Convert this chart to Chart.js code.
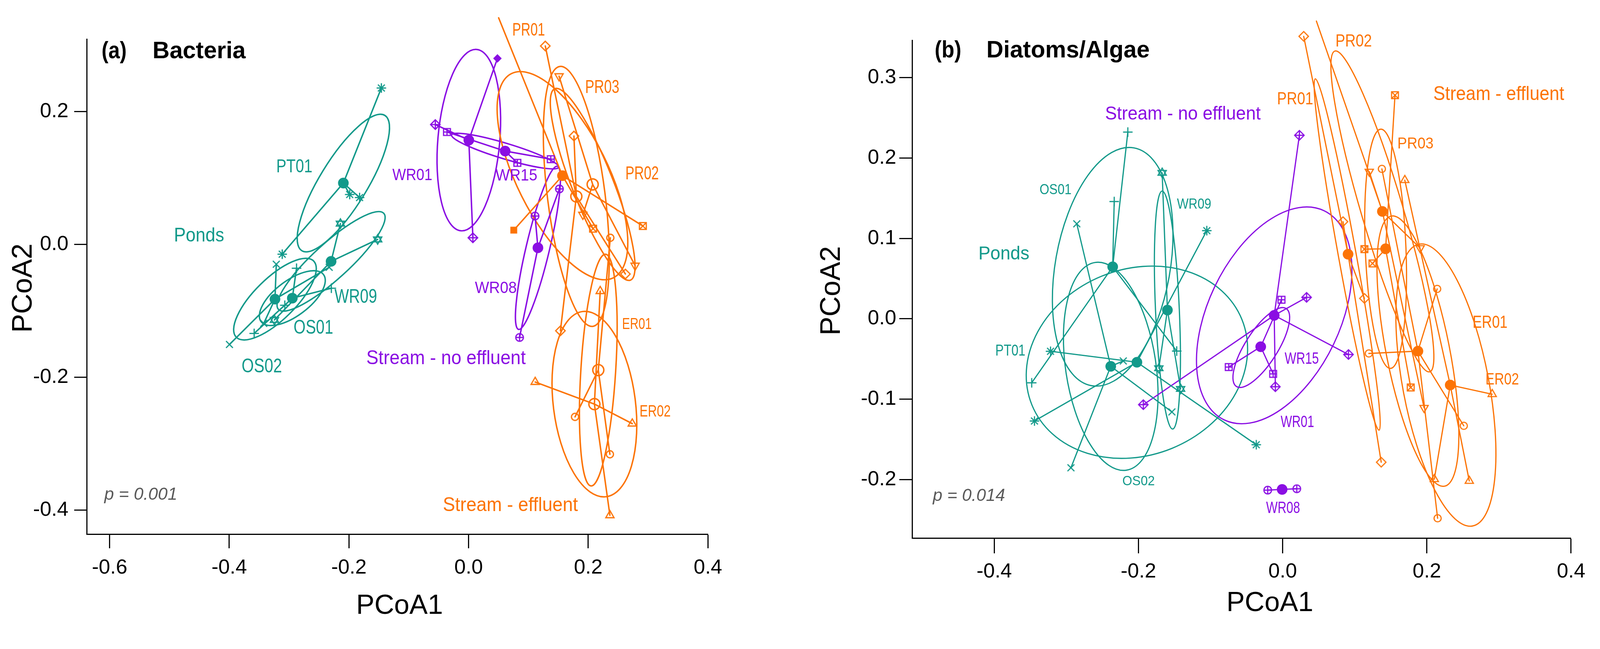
<!DOCTYPE html>
<html>
<head>
<meta charset="utf-8">
<script src="https://cdn.jsdelivr.net/npm/chart.js@4.4.1/dist/chart.umd.min.js"></script>
<style>
  html, body { margin: 0; padding: 0; background: #fff; overflow: hidden; }
  #wrap { position: relative; overflow: hidden; background: #fff; }
  canvas { position: absolute; top: 0; }
</style>
</head>
<body>
<div id="wrap"></div>
<script>
// ---- groups (same order in both panels) ----
const groups  = ['PT01', 'WR09', 'OS01', 'OS02', 'WR01', 'WR15', 'WR08', 'PR01', 'PR02', 'PR03', 'ER01', 'ER02'];
const habitat = ['pond', 'pond', 'pond', 'pond', 'ref', 'ref', 'ref', 'eff', 'eff', 'eff', 'eff', 'eff'];
const marker  = ['asterisk', 'star6', 'plus', 'x', 'diaplus', 'sqplus', 'circplus', 'diamond', 'tridown', 'sqx', 'circle', 'triup'];

// ---- (a) Bacteria: site scores [PCoA1, PCoA2] per group ----
const aSites = [
  [[-0.1458, 0.2352], [-0.1987, 0.0750], [-0.1822, 0.0704], [-0.3115, -0.0148]],
  [[-0.2142, 0.0312], [-0.1520, 0.0074], [-0.3245, -0.1137]],
  [[-0.2876, -0.0359], [-0.2294, -0.0660], [-0.3584, -0.1340], [-0.3072, -0.0916]],
  [[-0.3214, -0.0299], [-0.2330, -0.0345], [-0.3424, -0.1189], [-0.3997, -0.1506]],
  [[-0.0556, 0.1802], [0.0072, 0.0099], [0.0482, 0.2797]],
  [[-0.0361, 0.1690], [0.0815, 0.1226], [0.1374, 0.1281]],
  [[0.1518, 0.0834], [0.1111, 0.0426], [0.0852, -0.1401]],
  [[0.1282, 0.2984], [0.1761, 0.1630], [0.2621, -0.0446], [0.1535, -0.1300]],
  [[0.1512, 0.2530], [0.1910, 0.0447], [0.2783, -0.0319]],
  [[0.0502, 0.3408], [0.2081, 0.0236], [0.2913, 0.0276], [0.0755, 0.0214]],
  [[0.2369, 0.0099], [0.1779, -0.2595], [0.2362, -0.3158]],
  [[0.2200, -0.0704], [0.1113, -0.2071], [0.2736, -0.2697], [0.2362, -0.4076]]
];
const aCentroids = [[-0.2093, 0.0922], [-0.2298, -0.0256], [-0.2946, -0.0809], [-0.3236, -0.0824],
  [0.0004, 0.1568], [0.0611, 0.1403], [0.1159, -0.0052], [0.1801, 0.0721], [0.2074, 0.0902],
  [0.1569, 0.1033], [0.2168, -0.1891], [0.2103, -0.2403]];
// ellipse: centre x, centre y, end of major semi-axis x, y, minor/major ratio
const aEllipses = [
  [-0.2093, 0.0922, -0.1400, 0.1940, 0.30],
  [-0.2298, -0.0256, -0.1417, 0.0466, 0.25],
  [-0.2946, -0.0809, -0.2424, -0.0455, 0.45],
  [-0.3236, -0.0824, -0.2589, -0.0251, 0.38],
  [0.0004, 0.1568, 0.0135, 0.2932, 0.34],
  [0.0611, 0.1403, 0.1506, 0.1160, 0.14],
  [0.1159, -0.0052, 0.1483, 0.1175, 0.14],
  [0.1801, 0.0721, 0.1526, 0.2676, 0.22],
  [0.2074, 0.0902, 0.1442, 0.2342, 0.20],
  [0.1569, 0.1033, 0.2422, -0.0502, 0.40],
  [0.2168, -0.1891, 0.2289, -0.0148, 0.15],
  [0.2103, -0.2403, 0.1907, -0.1010, 0.44]
];
const aFilled = [[4, 2], [9, 3]];          // [group, site] drawn with a solid symbol
const aOpenCentroid = [7, 8, 10, 11];      // centroids drawn as open circles
const aTicksX = [-0.6, -0.4, -0.2, 0.0, 0.2, 0.4];
const aTicksY = [-0.4, -0.2, 0.0, 0.2];

// ---- (b) Diatoms/Algae ----
const bSites = [
  [[-0.3219, -0.0404], [-0.3442, -0.1271], [-0.1052, 0.1097], [-0.0366, -0.1566]],
  [[-0.1671, 0.1816], [-0.1717, -0.0615], [-0.1415, -0.0872]],
  [[-0.2147, 0.2323], [-0.2336, 0.1459], [-0.3480, -0.0796], [-0.1469, -0.0401]],
  [[-0.2855, 0.1182], [-0.2210, -0.0524], [-0.1536, -0.1158], [-0.2936, -0.1853]],
  [[0.0232, 0.2283], [0.0332, 0.0267], [0.0913, -0.0444], [-0.0101, -0.0845], [-0.1932, -0.1068]],
  [[-0.0016, 0.0237], [-0.0132, -0.0685], [-0.0748, -0.0600]],
  [[-0.0207, -0.2131], [0.0196, -0.2114]],
  [[0.0292, 0.3514], [0.0837, 0.1209], [0.1134, 0.0254], [0.1367, -0.1784]],
  [[0.0468, 0.3704], [0.1201, 0.1831], [0.1907, 0.0880], [0.1961, -0.1107]],
  [[0.1558, 0.2782], [0.1134, 0.0867], [0.1246, 0.0689], [0.1776, -0.0854]],
  [[0.1376, 0.1865], [0.2143, 0.0372], [0.1195, -0.0431], [0.2512, -0.1331], [0.2149, -0.2481]],
  [[0.1694, 0.1725], [0.2906, -0.0938], [0.2103, -0.1995], [0.2588, -0.2017]]
];
const bCentroids = [[-0.2021, -0.0540], [-0.1598, 0.0109], [-0.2357, 0.0647], [-0.2384, -0.0591],
  [-0.0117, 0.0043], [-0.0304, -0.0347], [-0.0007, -0.2122], [0.0907, 0.0804], [0.1383, 0.1336],
  [0.1428, 0.0871], [0.1876, -0.0402], [0.2324, -0.0824]];
const bEllipses = [
  [-0.2021, -0.0540, -0.0565, -0.0008, 0.82],
  [-0.1598, 0.0109, -0.1671, 0.1589, 0.10],
  [-0.2357, 0.0647, -0.2063, 0.2126, 0.475],
  [-0.2384, -0.0591, -0.2601, 0.0701, 0.43],
  [-0.0117, 0.0043, 0.0575, 0.1344, 0.57],
  [-0.0296, -0.0357, 0.0049, 0.0128, 0.35],
  null,
  [0.0895, 0.0800, 0.0453, 0.2985, 0.05],
  [0.1383, 0.1336, 0.0725, 0.3331, 0.125],
  [0.1428, 0.0871, 0.1361, 0.2359, 0.17],
  [0.1876, -0.0402, 0.1506, 0.1278, 0.23],
  [0.2264, -0.0824, 0.1893, 0.0929, 0.30]
];
const bTicksX = [-0.4, -0.2, 0.0, 0.2, 0.4];
const bTicksY = [-0.2, -0.1, 0.0, 0.1, 0.2, 0.3];

// ---- annotations: [text, x, y (data units), font px, max width px, habitat] ----
const aLabels = [
  ['Ponds', -0.4505, 0.0123, 52, 132, 'pond'],
  ['PT01', -0.2912, 0.1161, 50, 95, 'pond'],
  ['WR09', -0.1886, -0.0800, 52, 112, 'pond'],
  ['OS01', -0.2594, -0.1260, 52, 104, 'pond'],
  ['OS02', -0.3456, -0.1846, 52, 106, 'pond'],
  ['WR01', -0.0940, 0.1035, 44, 105, 'ref'],
  ['WR15', 0.0800, 0.1027, 44, 110, 'ref'],
  ['WR08', 0.0455, -0.0664, 44, 110, 'ref'],
  ['Stream - no effluent', -0.0377, -0.1722, 52, 419, 'ref'],
  ['PR01', 0.1004, 0.3215, 48, 86, 'eff'],
  ['PR03', 0.2234, 0.2357, 50, 90, 'eff'],
  ['PR02', 0.2900, 0.1059, 50, 88, 'eff'],
  ['ER01', 0.2813, -0.1208, 41, 78, 'eff'],
  ['ER02', 0.3118, -0.2520, 44, 82, 'eff'],
  ['Stream - effluent', 0.0699, -0.3930, 52, 355, 'eff']
];
const bLabels = [
  ['Stream - no effluent', -0.1384, 0.2545, 50, 409, 'ref'],
  ['Ponds', -0.3866, 0.0803, 50, 134, 'pond'],
  ['OS01', -0.3150, 0.1598, 37, 84, 'pond'],
  ['WR09', -0.1228, 0.1419, 37, 90, 'pond'],
  ['PT01', -0.3776, -0.0400, 42, 79, 'pond'],
  ['OS02', -0.1998, -0.2024, 36, 85, 'pond'],
  ['WR15', 0.0265, -0.0504, 44, 90, 'ref'],
  ['WR01', 0.0204, -0.1290, 44, 88, 'ref'],
  ['WR08', 0.0006, -0.2360, 44, 89, 'ref'],
  ['PR02', 0.0985, 0.3445, 45, 96, 'eff'],
  ['PR01', 0.0173, 0.2725, 45, 95, 'eff'],
  ['PR03', 0.1842, 0.2176, 42, 95, 'eff'],
  ['Stream - effluent', 0.2997, 0.2788, 52, 344, 'eff'],
  ['ER01', 0.2876, -0.0054, 45, 92, 'eff'],
  ['ER02', 0.3045, -0.0759, 44, 88, 'eff']
];

const colour = { pond: '#12998a', ref: '#8a0ee3', eff: '#fc7305' };
const FONT = "'Liberation Sans', Arial, Helvetica, sans-serif";
Chart.defaults.font.family = FONT;

// layout is designed for a 4205 px wide page; follow the real viewport width
const S = (window.innerWidth || 4205) / 4205;
const px = v => v * S;

const wrap = document.getElementById('wrap');
wrap.style.width = px(4205) + 'px';
wrap.style.height = px(1661) + 'px';
function addCanvas(id, left, w) {
  const c = document.createElement('canvas');
  c.id = id;
  c.width = Math.round(px(w));
  c.height = Math.round(px(1661));
  c.style.left = px(left) + 'px';
  wrap.appendChild(c);
  return c;
}

// plotting symbols, drawn once into small canvases and used as pointStyle
const markerCache = {};
function markerFor(kind, color, r, lw) {
  const key = kind + color + r + lw;
  if (markerCache[key]) return markerCache[key];
  const s = Math.ceil(2 * r + 2 * lw + 6);
  const cv = document.createElement('canvas');
  cv.width = s; cv.height = s;
  const g = cv.getContext('2d');
  g.translate(s / 2, s / 2);
  g.strokeStyle = color; g.fillStyle = color; g.lineWidth = lw;
  const q = r * 0.72;
  const plus = (l) => { g.moveTo(-l, 0); g.lineTo(l, 0); g.moveTo(0, -l); g.lineTo(0, l); };
  const cross = (l) => { g.moveTo(-l, -l); g.lineTo(l, l); g.moveTo(l, -l); g.lineTo(-l, l); };
  const tri = (d) => { g.moveTo(0, -d * r); g.lineTo(r * 0.866, d * r * 0.5); g.lineTo(-r * 0.866, d * r * 0.5); g.closePath(); };
  const diamond = (l) => { g.moveTo(0, -l); g.lineTo(l, 0); g.lineTo(0, l); g.lineTo(-l, 0); g.closePath(); };
  let fill = false;
  g.beginPath();
  if (kind === 'plus') plus(r);
  else if (kind === 'x') cross(q);
  else if (kind === 'asterisk') { plus(r); cross(q); }
  else if (kind === 'star6') { tri(1); tri(-1); }
  else if (kind === 'diamond') diamond(r);
  else if (kind === 'diaplus') { diamond(r); plus(r); }
  else if (kind === 'sqplus') { g.rect(-q, -q, 2 * q, 2 * q); plus(q); }
  else if (kind === 'sqx') { g.rect(-q, -q, 2 * q, 2 * q); cross(q); }
  else if (kind === 'circle') g.arc(0, 0, r * 0.75, 0, Math.PI * 2);
  else if (kind === 'circplus') { g.arc(0, 0, r * 0.8, 0, Math.PI * 2); plus(r * 0.8); }
  else if (kind === 'triup') tri(1);
  else if (kind === 'tridown') tri(-1);
  else if (kind === 'fdiamond') { diamond(r * 0.9); fill = true; }
  else if (kind === 'fsquare') { g.rect(-q, -q, 2 * q, 2 * q); fill = true; }
  if (fill) g.fill(); else g.stroke();
  markerCache[key] = cv;
  return cv;
}
const solid = { diaplus: 'fdiamond', sqx: 'fsquare' };

function ellipsePlugin(ells, lw) {
  return {
    id: 'ellipses',
    beforeDatasetsDraw(chart) {
      const ctx = chart.ctx, xs = chart.scales.x, ys = chart.scales.y;
      ctx.save();
      ctx.lineWidth = lw;
      ells.forEach((e, i) => {
        if (!e) return;
        const cx = xs.getPixelForValue(e[0]), cy = ys.getPixelForValue(e[1]);
        const ex = xs.getPixelForValue(e[2]), ey = ys.getPixelForValue(e[3]);
        const a = Math.hypot(ex - cx, ey - cy);
        ctx.strokeStyle = colour[habitat[i]];
        ctx.beginPath();
        ctx.ellipse(cx, cy, a, a * e[4], Math.atan2(ey - cy, ex - cx), 0, Math.PI * 2);
        ctx.stroke();
      });
      ctx.restore();
    }
  };
}

function textPlugin(labels, fixed) {
  return {
    id: 'labels',
    afterDatasetsDraw(chart) {
      const ctx = chart.ctx, xs = chart.scales.x, ys = chart.scales.y;
      ctx.save();
      ctx.textAlign = 'center';
      ctx.textBaseline = 'middle';
      labels.forEach(l => {
        ctx.font = px(l[3]) + 'px ' + FONT;
        ctx.fillStyle = colour[l[5]];
        ctx.fillText(l[0], xs.getPixelForValue(l[1]), ys.getPixelForValue(l[2]), px(l[4]));
      });
      ctx.restore();
    },
    afterDraw(chart) {
      const ctx = chart.ctx;
      fixed.forEach(f => {
        ctx.save();
        ctx.font = (f.style ? f.style + ' ' : '') + px(f.size) + 'px ' + FONT;
        ctx.fillStyle = f.color || '#000';
        ctx.textAlign = f.align || 'left';
        ctx.textBaseline = f.base || 'alphabetic';
        ctx.translate(px(f.x), px(f.y));
        if (f.rot) ctx.rotate(f.rot);
        if (f.w) ctx.fillText(f.text, 0, 0, px(f.w)); else ctx.fillText(f.text, 0, 0);
        ctx.restore();
      });
    }
  };
}

function axis(min, max, ticks, horizontal, L) {
  return {
    type: 'linear', min: min, max: max, offset: false,
    afterBuildTicks: s => { s.ticks = ticks.map(v => ({ value: v })); },
    afterFit: s => { if (horizontal) s.height = px(L.size); else s.width = px(L.size); },
    ticks: { autoSkip: false, maxRotation: 0, color: '#000', font: { size: px(54) }, padding: px(L.pad),
             callback: v => Number(v).toFixed(1) },
    grid: { drawOnChartArea: false, drawTicks: true, tickLength: px(L.tick), tickWidth: px(3),
            tickColor: '#000', color: '#000' },
    border: { display: true, color: '#000', width: px(3) }
  };
}

function buildPanel(canvas, P) {
  const datasets = [];
  groups.forEach((g, i) => {
    const col = colour[habitat[i]];
    const c = P.centroids[i];
    const pts = P.sites[i];
    const open = P.openCentroid.includes(i);
    datasets.push({
      label: g + ' centroid', data: [{ x: c[0], y: c[1] }], order: 0, clip: false,
      pointStyle: 'circle', pointRadius: px(open ? P.st.openR : P.st.centR),
      pointBackgroundColor: open ? 'rgba(0,0,0,0)' : col, pointBorderColor: col,
      pointBorderWidth: open ? px(P.st.lw) : 0
    });
    datasets.push({
      label: g, data: pts.map(p => ({ x: p[0], y: p[1] })), order: 1, clip: false,
      pointStyle: pts.map((p, j) => {
        const isSolid = P.filled.some(f => f[0] === i && f[1] === j);
        return markerFor(isSolid ? solid[marker[i]] : marker[i], col, px(P.st.r), px(P.st.mlw));
      }),
      pointRadius: px(P.st.r)
    });
    const spoke = [];
    pts.forEach(p => spoke.push({ x: c[0], y: c[1] }, { x: p[0], y: p[1] }));
    datasets.push({
      label: g + ' spider', data: spoke, order: 2, clip: false, showLine: true,
      pointRadius: 0, borderColor: col, borderWidth: px(P.st.lw),
      borderJoinStyle: 'round', borderCapStyle: 'round'
    });
  });

  return new Chart(canvas, {
    type: 'scatter',
    data: { datasets: datasets },
    options: {
      responsive: false, animation: false, events: [],
      layout: { padding: { left: 0, top: px(P.top), right: px(P.right), bottom: 0 } },
      plugins: { legend: { display: false }, tooltip: { enabled: false } },
      scales: {
        x: axis(P.xr[0], P.xr[1], P.xt, true, P.xAxis),
        y: axis(P.yr[0], P.yr[1], P.yt, false, P.yAxis)
      }
    },
    plugins: [ellipsePlugin(P.ellipses, px(P.st.lw)), textPlugin(P.labels, P.fixed)]
  });
}

buildPanel(addCanvas('ca', 0, 2100), {
  sites: aSites, centroids: aCentroids, ellipses: aEllipses, filled: aFilled, openCentroid: aOpenCentroid,
  labels: aLabels, xt: aTicksX, yt: aTicksY,
  xr: [-0.6382, 0.4], yr: [-0.4360, 0.3086],
  top: 103, right: 240,
  xAxis: { size: 257.5, tick: 37, pad: 19 },
  yAxis: { size: 228, tick: 33, pad: 15 },
  st: { r: 12.5, mlw: 3.2, lw: 3.8, centR: 14, openR: 14.5 },
  fixed: [
    { text: '(a)', x: 267, y: 153, style: 'bold', size: 62, w: 66 },
    { text: 'Bacteria', x: 401, y: 153, style: 'bold', size: 62 },
    { text: 'PCoA1', x: 1050, y: 1613, size: 72, align: 'center' },
    { text: 'PCoA2', x: 63, y: 757, size: 74, align: 'center', base: 'middle', rot: -Math.PI / 2 },
    { text: 'p = 0.001', x: 274, y: 1313, style: 'italic', size: 46, color: '#595959', w: 192 }
  ]
});

buildPanel(addCanvas('cb', 2100, 2105), {
  sites: bSites, centroids: bCentroids, ellipses: bEllipses, filled: [], openCentroid: [],
  labels: bLabels, xt: bTicksX, yt: bTicksY,
  xr: [-0.5137, 0.4], yr: [-0.2728, 0.3465],
  top: 105.8, right: 76,
  xAxis: { size: 247.2, tick: 40, pad: 16 },
  yAxis: { size: 297, tick: 34, pad: 8 },
  st: { r: 12.5, mlw: 3, lw: 3.2, centR: 14, openR: 14.5 },
  fixed: [
    { text: '(b)', x: 356, y: 151, style: 'bold', size: 62, w: 70 },
    { text: 'Diatoms/Algae', x: 492, y: 151, style: 'bold', size: 62, w: 429 },
    { text: 'PCoA1', x: 1237, y: 1606, size: 72, align: 'center' },
    { text: 'PCoA2', x: 86, y: 764, size: 74, align: 'center', base: 'middle', rot: -Math.PI / 2 },
    { text: 'p = 0.014', x: 351, y: 1316, style: 'italic', size: 46, color: '#595959', w: 190 }
  ]
});
</script>
</body>
</html>
